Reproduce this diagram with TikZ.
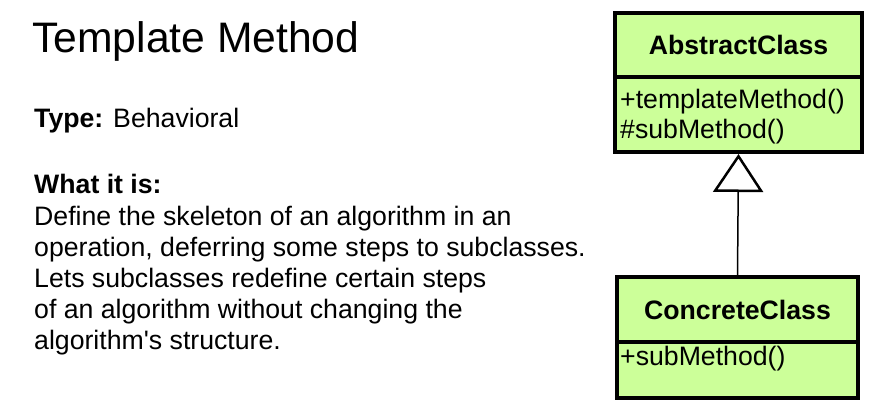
\documentclass[tikz,border=0pt]{standalone}
\usepackage{fontspec}
\setmainfont{Liberation Sans}[Ligatures=TeXOff]
\usetikzlibrary{arrows.meta, positioning}
\definecolor{umlgreen}{RGB}{204,255,153}

\begin{document}
\begin{tikzpicture}[x=1pt, y=-1pt,
    classhead/.style={draw, line width=4pt, fill=umlgreen, inner sep=0pt,
        font=\fontsize{26.67}{31}\selectfont\bfseries},
    classops/.style={draw, line width=4pt, fill=umlgreen, inner sep=0pt},
    optext/.style={anchor=base west, inner sep=0pt, font=\fontsize{26.67}{31}\selectfont},
    body/.style={anchor=base west, inner sep=0pt, font=\fontsize{26.67}{31}\selectfont},
    inherit/.style={-{Triangle[open, length=38pt, width=50pt, line width=2.5pt]}, line width=1.5pt}]

    \useasboundingbox (0,0) rectangle (885,409);

    % --- descrizione a sinistra ---
    \node[anchor=base west, inner sep=0pt, font=\fontsize{42.67}{50}\selectfont] (title) at (32,53) {Template Method};
    \node[body] (type) at (34,128) {\textbf{Type:} Behavioral};
    \node[body] (whatis) at (34,193) {\textbf{What it is:}};
    \foreach \txt [count=\i] in {Define the skeleton of an algorithm in an,
        {operation, deferring some steps to subclasses.},
        Lets subclasses redefine certain steps,
        of an algorithm without changing the,
        algorithm's structure.}
        \node[body] (line\i) at (34,{225+31*(\i-1)}) {\txt};

    % --- diagramma UML ---
    \node[classhead, minimum width=247pt, minimum height=64pt] (abstractHead) at (738.5,45) {AbstractClass};
    \node[classops, minimum width=247pt, minimum height=75pt] (abstractOps) at (738.5,114.5) {};
    \node[optext] (opTemplate) at (620,109) {+templateMethod()};
    \node[optext] (opSubAbs) at (620,139) {\#subMethod()};

    \node[classhead, minimum width=241pt, minimum height=65pt] (concreteHead) at (737.5,309.5) {ConcreteClass};
    \node[classops, minimum width=241pt, minimum height=56pt] (concreteOps) at (737.5,370) {};
    \node[optext] (opSubConc) at (620,365) {+subMethod()};

    % ereditarieta
    \draw[inherit] (concreteHead.north) -- (abstractOps.south);

\end{tikzpicture}
\end{document}
